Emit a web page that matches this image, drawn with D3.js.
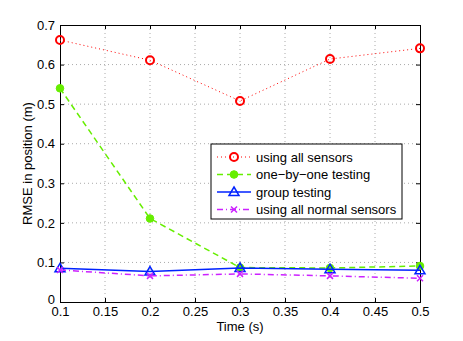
<!DOCTYPE html>
<html><head><meta charset="utf-8">
<script src="https://cdn.jsdelivr.net/npm/d3@7"></script>
<style>body{margin:0;background:#fff}svg{display:block;font-family:"Liberation Sans",Arial,sans-serif}</style>
</head><body>
<script>
const times = [0.1, 0.2, 0.3, 0.4, 0.5];
const allSensors = [0.662, 0.611, 0.508, 0.614, 0.641];
const oneByOne = [0.540, 0.211, 0.087, 0.086, 0.091];
const groupTesting = [0.085, 0.077, 0.086, 0.083, 0.080];
const allNormal = [0.081, 0.066, 0.071, 0.066, 0.060];
const xTicks = [0.1, 0.15, 0.2, 0.25, 0.3, 0.35, 0.4, 0.45, 0.5];
const yTicks = [0, 0.1, 0.2, 0.3, 0.4, 0.5, 0.6, 0.7];
const seriesNames = ["using all sensors", "one\u2212by\u2212one testing", "group testing", "using all normal sensors"];

const W = 463, H = 341;
const m = {l: 60, r: 43, t: 25, b: 39};
const FS = 13;
const svg = d3.select("body").append("svg").attr("width", W).attr("height", H);
const x = d3.scaleLinear().domain([0.1, 0.5]).range([m.l, W - m.r]);
const y = d3.scaleLinear().domain([0, 0.7]).range([H - m.b, m.t]);

// grid
const g = svg.append("g");
g.selectAll(".gx").data(xTicks.slice(1, -1)).enter().append("line")
  .attr("x1", d => x(d)).attr("x2", d => x(d)).attr("y1", y(0)).attr("y2", y(0.7))
  .attr("stroke", "#aaa").attr("stroke-width", 1).attr("stroke-dasharray", "1,3");
g.selectAll(".gy").data(yTicks.slice(1, -1)).enter().append("line")
  .attr("y1", d => y(d)).attr("y2", d => y(d)).attr("x1", x(0.1)).attr("x2", x(0.5))
  .attr("stroke", "#aaa").attr("stroke-width", 1).attr("stroke-dasharray", "1,3");

// axes
const fmt = d => d3.format("")(+d.toFixed(2));
const xAxis = d3.axisBottom(x).tickValues(xTicks).tickSize(-4).tickPadding(5).tickFormat(fmt);
const yAxis = d3.axisLeft(y).tickValues(yTicks).tickSize(-4).tickPadding(5).tickFormat(fmt);
const xa = svg.append("g").attr("transform", `translate(0,${y(0)})`).call(xAxis);
const ya = svg.append("g").attr("transform", `translate(${x(0.1)},0)`).call(yAxis);
const xaT = svg.append("g").attr("transform", `translate(0,${y(0.7)})`).call(d3.axisTop(x).tickValues(xTicks).tickSize(-4).tickFormat(""));
const yaR = svg.append("g").attr("transform", `translate(${x(0.5)},0)`).call(d3.axisRight(y).tickValues(yTicks).tickSize(-4).tickFormat(""));
[xa, ya, xaT, yaR].forEach(a => {
  a.select(".domain").attr("stroke", "#000").attr("stroke-width", 1);
  a.selectAll(".tick line").attr("stroke", "#000");
  a.selectAll("text").attr("font-size", FS).attr("fill", "#000").attr("font-family", "Liberation Sans, Arial, sans-serif");
});
// lift the "0" label slightly so it does not collide with "0.1"
ya.selectAll(".tick text").filter(d => d === 0).attr("dy", "0.1em");

svg.append("text").attr("x", x(0.3)).attr("y", 331).attr("text-anchor", "middle")
  .attr("font-size", FS).text("Time (s)");
svg.append("text").attr("transform", `translate(32,${y(0.35)}) rotate(-90)`).attr("text-anchor", "middle")
  .attr("font-size", FS).text("RMSE in position (m)");

const styles = [
  {data: allSensors, color: "#ff0000", dash: "1,3", marker: "circle"},
  {data: oneByOne, color: "#66ee00", dash: "6,4", marker: "dot"},
  {data: groupTesting, color: "#0022ff", dash: null, marker: "tri"},
  {data: allNormal, color: "#cc22ff", dash: "6,3,1,3", marker: "x"}
];

function drawMarker(sel, type, color) {
  if (type === "circle") {
    sel.append("circle").attr("r", 4).attr("fill", "none").attr("stroke", color).attr("stroke-width", 2);
  } else if (type === "dot") {
    sel.append("circle").attr("r", 3.8).attr("fill", color).attr("stroke", color);
  } else if (type === "tri") {
    sel.append("path").attr("d", "M0,-5L5,3.5L-5,3.5Z").attr("fill", "none").attr("stroke", color).attr("stroke-width", 1.5);
  } else {
    sel.append("path").attr("d", "M-3,-3L3,3M-3,3L3,-3").attr("stroke", color).attr("stroke-width", 1.5);
  }
}

const line = d3.line().x((d, i) => x(times[i])).y(d => y(d));
styles.forEach(s => {
  svg.append("path").datum(s.data).attr("d", line).attr("fill", "none")
    .attr("stroke", s.color).attr("stroke-width", s.marker === "circle" ? 1 : 1.5)
    .attr("stroke-dasharray", s.dash);
  s.data.forEach((v, i) => {
    const mg = svg.append("g").attr("transform", `translate(${x(times[i])},${y(v)})`);
    drawMarker(mg, s.marker, s.color);
  });
});

// legend
const lg = svg.append("g").attr("transform", "translate(211,144)");
lg.append("rect").attr("width", 191).attr("height", 75).attr("fill", "#fff").attr("stroke", "#000").attr("stroke-width", 1);
styles.forEach((s, i) => {
  const yy = 13 + i * 17.5;
  lg.append("line").attr("x1", 6).attr("x2", 40).attr("y1", yy).attr("y2", yy)
    .attr("stroke", s.color).attr("stroke-width", s.marker === "circle" ? 1 : 1.5).attr("stroke-dasharray", s.dash);
  const mg = lg.append("g").attr("transform", `translate(23,${yy})`);
  drawMarker(mg, s.marker, s.color);
  lg.append("text").attr("x", 45).attr("y", yy + 4.5).attr("font-size", FS).text(seriesNames[i]);
});
</script>
</body></html>
